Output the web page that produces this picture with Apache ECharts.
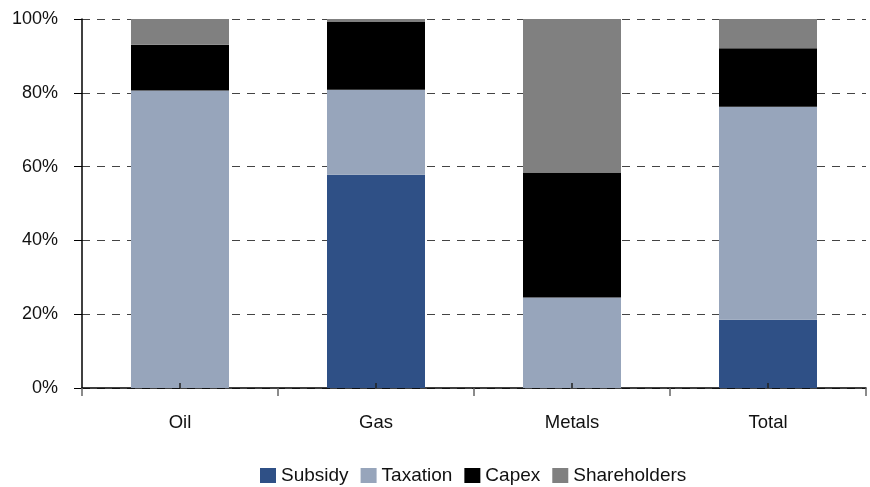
<!DOCTYPE html>
<html><head><meta charset="utf-8">
<script src="https://cdn.jsdelivr.net/npm/echarts@6/dist/echarts.min.js"></script>
<style>html,body{margin:0;padding:0;background:#fff}#c{width:870px;height:487px}</style>
</head><body><div id="c"></div>
<script>
const categories = ['Oil', 'Gas', 'Metals', 'Total'];
const subsidy = [0, 57.8, 0, 18.5];
const taxation = [80.6, 23.0, 24.5, 57.7];
const capex = [12.4, 18.5, 33.9, 15.9];
const shareholders = [7.0, 0.7, 41.6, 7.9];
const yTicks = [0, 20, 40, 60, 80, 100];

const font = '"Liberation Sans", Arial, sans-serif';
const chart = echarts.init(document.getElementById('c'), null, {renderer: 'canvas'});
function bar(name, data, color) {
  return {name, type: 'bar', stack: 's', data, barWidth: '50%', xAxisIndex: 0,
    itemStyle: {color}, emphasis: {disabled: true}};
}
chart.setOption({
  animation: false,
  grid: {left: 82, right: 4, top: 19, bottom: 99, containLabel: false},
  legend: {
    top: 461, left: 255, itemWidth: 16, itemHeight: 15, itemGap: 12,
    textStyle: {fontFamily: font, fontSize: 19, color: '#111'},
    icon: 'rect',
    data: ['Subsidy', 'Taxation', 'Capex', 'Shareholders']
  },
  xAxis: [{
    type: 'category', data: categories,
    axisLine: {lineStyle: {color: '#000', width: 1.5}},
    axisTick: {show: true, alignWithLabel: false, length: 8, lineStyle: {color: '#666', width: 1.5}},
    axisLabel: {fontFamily: font, fontSize: 18.5, color: '#111', margin: 25},
    splitLine: {show: false}
  }, {
    type: 'category', data: categories, position: 'bottom', z: 5,
    axisLine: {show: false},
    axisTick: {show: true, alignWithLabel: true, inside: true, length: 5, lineStyle: {color: '#222', width: 1.5}},
    axisLabel: {show: false},
    splitLine: {show: false}
  }],
  yAxis: {
    type: 'value', min: 0, max: 100, interval: 20,
    axisLine: {show: true, lineStyle: {color: '#000', width: 1.5}},
    axisTick: {show: true, length: 8, lineStyle: {color: '#000'}},
    axisLabel: {fontFamily: font, fontSize: 18, color: '#111', margin: 24, formatter: '{value}%'},
    splitLine: {show: true, lineStyle: {color: '#444', type: [8, 7], width: 1}}
  },
  series: [
    bar('Subsidy', subsidy, '#2F5086'),
    bar('Taxation', taxation, '#97A5BB'),
    bar('Capex', capex, '#000000'),
    bar('Shareholders', shareholders, '#808080')
  ]
});
</script></body></html>
